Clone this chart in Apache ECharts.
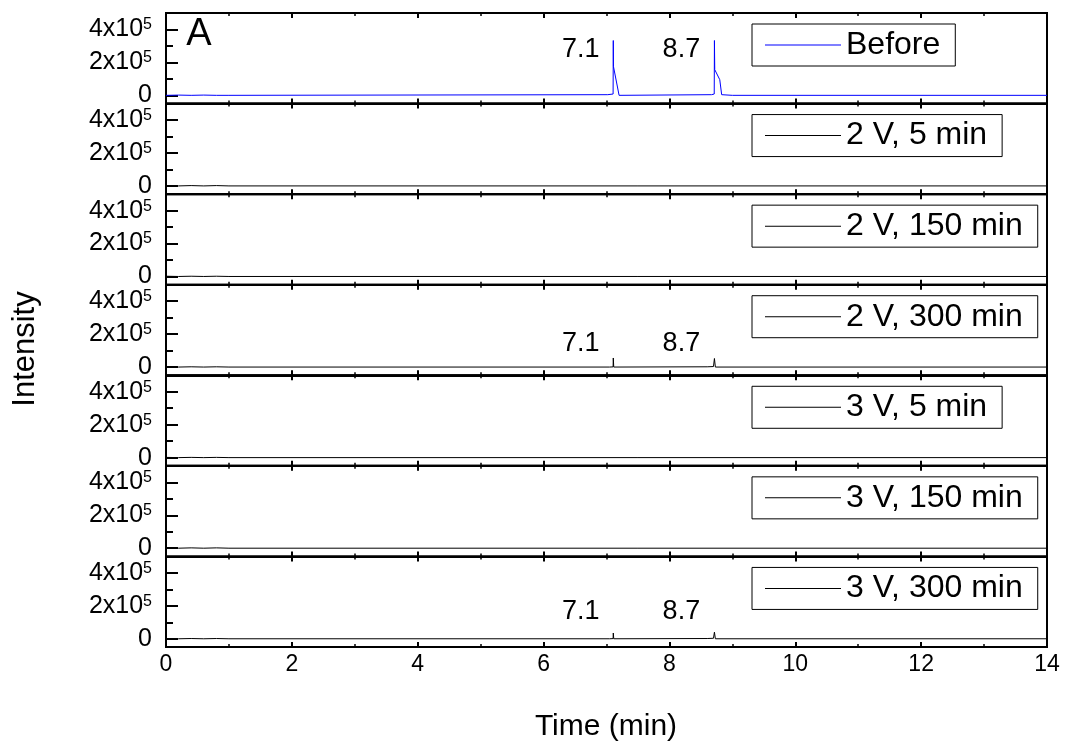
<!DOCTYPE html>
<html>
<head>
<meta charset="utf-8">
<script src="https://cdn.jsdelivr.net/npm/echarts@6/dist/echarts.min.js"></script>
<style>html,body{margin:0;padding:0;background:#fff}#c{width:1065px;height:744px}</style>
</head>
<body>
<div id="c"></div>
<script>
// ---- data ----
const seriesNames = ['Before', '2 V, 5 min', '2 V, 150 min', '2 V, 300 min', '3 V, 5 min', '3 V, 150 min', '3 V, 300 min'];
const seriesColors = ['#0000ff', '#000000', '#000000', '#000000', '#000000', '#000000', '#000000'];

const beforeTime = [0, 0.2, 0.4, 0.6, 0.8, 1.0, 7.02, 7.105, 7.108, 7.11, 7.20, 8.67, 8.712, 8.715, 8.72, 8.80, 8.83, 9.0, 14];
const beforeInt  = [0, 1500, 0, 1500, 0, 0, 4000, 8000, 333000, 176000, 0, 4000, 8000, 333000, 156000, 95000, 4000, 0, 0];

const v2m5Time = [0, 0.2, 0.4, 0.6, 0.8, 1.0, 14];
const v2m5Int  = [2000, 0, 2000, 0, 2000, 0, 0];

const v2m150Time = [0, 0.2, 0.4, 0.6, 0.8, 1.0, 14];
const v2m150Int  = [1500, 0, 1500, 0, 1500, 0, 0];

const v2m300Time = [0, 0.2, 0.4, 0.6, 0.8, 1.0, 7.05, 7.105, 7.108, 7.115, 8.6, 8.70, 8.712, 8.715, 8.73, 14];
const v2m300Int  = [1500, 0, 1500, 0, 1500, 0, 0, 1000, 55000, 0, 1500, 3000, 3000, 52000, 0, 0];

const v3m5Time = [0, 0.2, 0.4, 0.6, 0.8, 1.0, 14];
const v3m5Int  = [1500, 0, 1500, 0, 1500, 0, 0];

const v3m150Time = [0, 0.2, 0.4, 0.6, 0.8, 1.0, 14];
const v3m150Int  = [2000, 0, 2000, 0, 2000, 0, 0];

const v3m300Time = [0, 0.2, 0.4, 0.6, 0.8, 1.0, 7.05, 7.105, 7.108, 7.115, 8.6, 8.70, 8.712, 8.715, 8.73, 14];
const v3m300Int  = [1500, 0, 1500, 0, 1500, 0, 0, 1000, 35000, 0, 1500, 3000, 3000, 40000, 0, 0];

const peakTimes = [7.1, 8.7];
const xTicks = [0, 2, 4, 6, 8, 10, 12, 14];
const yLabelValues = [0, 200000, 400000];
const yMinorValues = [100000, 300000];

// ---- layout ----
const FONT = 'Liberation Sans, Arial, Helvetica, sans-serif';
const seriesTimes = [beforeTime, v2m5Time, v2m150Time, v2m300Time, v3m5Time, v3m150Time, v3m300Time];
const seriesInts = [beforeInt, v2m5Int, v2m150Int, v2m300Int, v3m5Int, v3m150Int, v3m300Int];
const N = seriesNames.length;
const plotTop = 13, plotBottom = 647, plotLeft = 166, plotRight = 1047;
const panelH = (plotBottom - plotTop) / N;
const peakLabelLevel = {0: 277000, 3: 145000, 6: 165000};
const peakLabelShift = 0.51;

const grids = [], xAxes = [], yAxes = [], series = [], legends = [];
for (let i = 0; i < N; i++) {
  const top = plotTop + i * panelH;
  grids.push({left: plotLeft, width: plotRight - plotLeft, top: top, height: panelH,
    show: true, borderColor: '#000', borderWidth: 2, backgroundColor: 'transparent'});
  const xBase = {gridIndex: i, type: 'value', min: xTicks[0], max: xTicks[xTicks.length - 1], interval: 2,
    axisLine: {show: true, onZero: false, lineStyle: {color: '#000', width: 2}},
    axisTick: {show: true, inside: true, length: 5, lineStyle: {color: '#000', width: 2}},
    minorTick: {show: true, splitNumber: 2, length: 3, lineStyle: {color: '#000', width: 1.5}},
    splitLine: {show: false}, minorSplitLine: {show: false}};
  xAxes.push(Object.assign({}, xBase, {position: 'bottom',
    axisLabel: {show: i === N - 1, fontSize: 23, color: '#000', margin: 6, fontFamily: FONT, hideOverlap: false}}));
  xAxes.push(Object.assign({}, xBase, {position: 'top', axisLabel: {show: false}}));
  const yBase = {gridIndex: i, type: 'value', min: -50000, max: 500000, position: 'left',
    axisLine: {show: true, onZero: false, lineStyle: {color: '#000', width: 2}},
    splitLine: {show: false}};
  yAxes.push(Object.assign({}, yBase, {
    axisTick: {show: true, inside: true, length: 12, customValues: yLabelValues, lineStyle: {color: '#000', width: 2}},
    axisLabel: {show: true, customValues: yLabelValues, interval: 0, margin: 14, color: '#000', fontFamily: FONT,
      hideOverlap: false,
      formatter: v => v === 0 ? '{z|0}' : '{n|' + (v / 100000) + 'x10}{s|5}',
      rich: {
        z: {fontSize: 25, lineHeight: 25, color: '#000', fontFamily: FONT},
        n: {fontSize: 25, lineHeight: 25, padding: [6, 0, 0, 0], verticalAlign: 'bottom', color: '#000', fontFamily: FONT},
        s: {fontSize: 16, lineHeight: 12, verticalAlign: 'top', color: '#000', fontFamily: FONT}
      }}
  }));
  yAxes.push(Object.assign({}, yBase, {
    axisTick: {show: true, inside: true, length: 7, customValues: yMinorValues, lineStyle: {color: '#000', width: 2}},
    axisLabel: {show: false}
  }));
  const data = seriesTimes[i].map((t, k) => [t, seriesInts[i][k]]);
  const s = {name: seriesNames[i], type: 'line', xAxisIndex: 2 * i, yAxisIndex: 2 * i, data: data,
    symbol: 'none', color: seriesColors[i], lineStyle: {width: 1, color: seriesColors[i]}, animation: false, z: 3};
  if (peakLabelLevel[i] !== undefined) {
    s.markPoint = {symbol: 'circle', symbolSize: 0, animation: false,
      data: peakTimes.map(t => ({coord: [t - peakLabelShift, peakLabelLevel[i]], value: t.toFixed(1)})),
      label: {show: true, position: 'inside', fontSize: 27, color: '#000', fontFamily: FONT, formatter: p => p.value}};
  }
  series.push(s);
  legends.push({data: [seriesNames[i]], left: 752, top: top + 11, orient: 'horizontal', icon: 'rect',
    itemWidth: 76, itemHeight: 1, padding: [5, 15, 5, 13], borderColor: '#000', borderWidth: 1,
    selectedMode: false, backgroundColor: '#fff',
    textStyle: {fontSize: 32, lineHeight: 30, color: '#000', fontFamily: FONT}});
}

const chart = echarts.init(document.getElementById('c'), null, {renderer: 'canvas'});
chart.setOption({
  animation: false,
  backgroundColor: '#fff',
  grid: grids, xAxis: xAxes, yAxis: yAxes, series: series, legend: legends,
  graphic: [
    {type: 'text', x: 199, y: 35, style: {text: 'A', fontSize: 38, fontFamily: FONT, fill: '#000', align: 'center', verticalAlign: 'middle'}},
    {type: 'text', x: 25, y: 349, rotation: Math.PI / 2, style: {text: 'Intensity', fontSize: 31, fontFamily: FONT, fill: '#000', align: 'center', verticalAlign: 'middle'}},
    {type: 'text', x: 606, y: 727, style: {text: 'Time (min)', fontSize: 30, fontFamily: FONT, fill: '#000', align: 'center', verticalAlign: 'middle'}}
  ]
});
</script>
</body>
</html>
